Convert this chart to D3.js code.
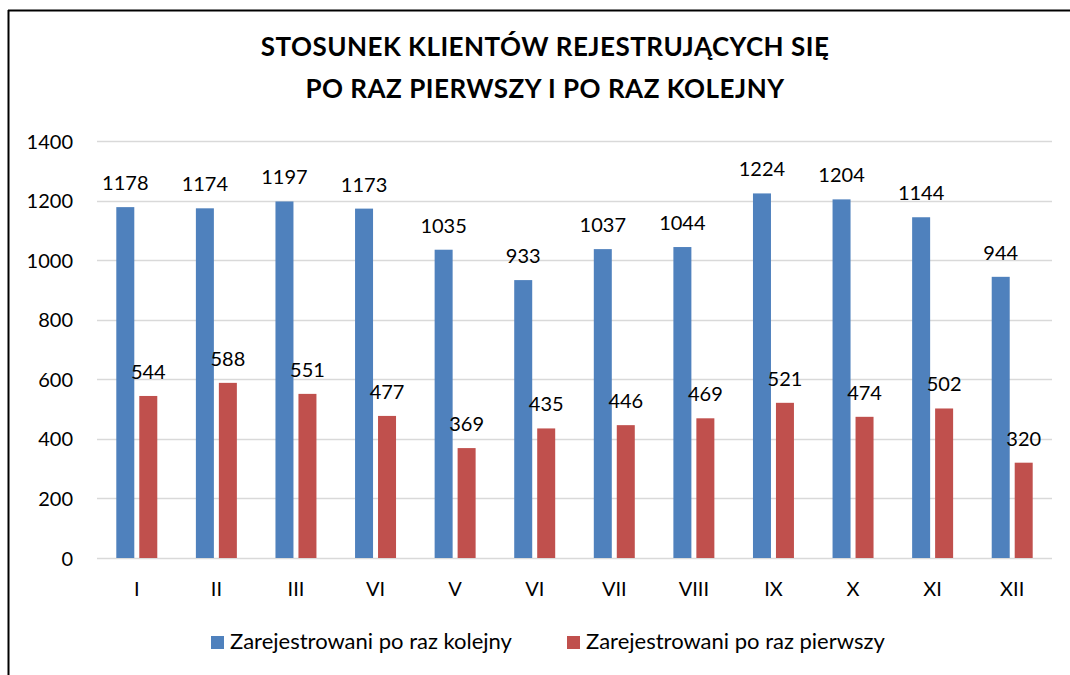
<!DOCTYPE html>
<html>
<head>
<meta charset="utf-8">
<script src="https://cdn.jsdelivr.net/npm/d3@7"></script>
<style>
  html, body { margin: 0; padding: 0; background: #fff; }
  svg { display: block; }
  text { font-family: Lato, "Open Sans", sans-serif; fill: #000; }
</style>
</head>
<body>
<svg id="chart" width="1070" height="675"></svg>
<script>
const titleLines = ["STOSUNEK KLIENTÓW REJESTRUJĄCYCH SIĘ", "PO RAZ PIERWSZY I PO RAZ KOLEJNY"];
const categories = ["I", "II", "III", "VI", "V", "VI", "VII", "VIII", "IX", "X", "XI", "XII"];
const seriesNames = ["Zarejestrowani po raz kolejny", "Zarejestrowani po raz pierwszy"];
const kolejny = [1178, 1174, 1197, 1173, 1035, 933, 1037, 1044, 1224, 1204, 1144, 944];
const pierwszy = [544, 588, 551, 477, 369, 435, 446, 469, 521, 474, 502, 320];
const yTicks = [0, 200, 400, 600, 800, 1000, 1200, 1400];
const colors = ["#4F81BD", "#C0504D"];

const svg = d3.select("#chart");

// frame lines (left and top)
svg.append("line").attr("x1", 8.5).attr("x2", 8.5).attr("y1", 10).attr("y2", 675)
  .attr("stroke", "#000").attr("stroke-width", 2);
svg.append("line").attr("x1", 8).attr("x2", 1070).attr("y1", 10.5).attr("y2", 10.5)
  .attr("stroke", "#000").attr("stroke-width", 2);

// title
svg.append("text").attr("x", 545).attr("y", 56).attr("text-anchor", "middle")
  .attr("font-size", 26).attr("font-weight", "bold").attr("letter-spacing", 0.5).text(titleLines[0]);
svg.append("text").attr("x", 545).attr("y", 98).attr("text-anchor", "middle")
  .attr("font-size", 26).attr("font-weight", "bold").attr("letter-spacing", 0.5).text(titleLines[1]);

const pLeft = 97, pRight = 1052, pTop = 141, pBottom = 558;
const idx = categories.map((c, i) => i);
const x0 = d3.scaleBand().domain(idx).range([pLeft, pRight]).paddingInner(0.485).paddingOuter(0.2425);
const x1 = d3.scaleBand().domain([0, 1]).range([0, x0.bandwidth()]).paddingInner(0.217);
const y = d3.scaleLinear().domain([0, 1400]).range([pBottom, pTop]);

// gridlines
svg.append("g").selectAll("line").data(yTicks).join("line")
  .attr("x1", pLeft).attr("x2", pRight)
  .attr("y1", d => Math.round(y(d)) + 0.5).attr("y2", d => Math.round(y(d)) + 0.5)
  .attr("stroke", "#D9D9D9").attr("stroke-width", 1.5);

// y axis labels
const yAxis = d3.axisLeft(y).tickValues(yTicks).tickFormat(d3.format("d")).tickSize(0).tickPadding(0);
const gy = svg.append("g").attr("transform", "translate(73,0)").call(yAxis);
gy.select(".domain").remove();
gy.selectAll("text").attr("font-size", 20).attr("font-family", "Lato, sans-serif").attr("fill", "#000").attr("dy", "0.35em");

// x axis labels
const xAxis = d3.axisBottom(x0).tickFormat(i => categories[i]).tickSize(0).tickPadding(0);
const gx = svg.append("g").attr("transform", "translate(0,582)").call(xAxis);
gx.select(".domain").remove();
gx.selectAll("text").attr("font-size", 20).attr("font-family", "Lato, sans-serif").attr("fill", "#000").attr("dy", "0.71em");

const series = [kolejny, pierwszy];
series.forEach((vals, s) => {
  const g = svg.append("g");
  g.selectAll("rect").data(vals).join("rect")
    .attr("x", (d, i) => x0(i) + x1(s))
    .attr("width", x1.bandwidth())
    .attr("y", d => y(d))
    .attr("height", d => y(0) - y(d))
    .attr("fill", colors[s]);
  g.selectAll("text").data(vals).join("text")
    .attr("x", (d, i) => x0(i) + x1(s) + x1.bandwidth() / 2)
    .attr("y", d => y(d) - 17)
    .attr("text-anchor", "middle")
    .attr("font-size", 20)
    .text(d => d);
});

// legend
const legendItems = [{x: 211, color: colors[0], name: seriesNames[0]}, {x: 567, color: colors[1], name: seriesNames[1]}];
const lg = svg.append("g");
legendItems.forEach(it => {
  lg.append("rect").attr("x", it.x).attr("y", 636).attr("width", 13).attr("height", 13).attr("fill", it.color);
  lg.append("text").attr("x", it.x + 19).attr("y", 649).attr("font-size", 22).text(it.name);
});
</script>
</body>
</html>
